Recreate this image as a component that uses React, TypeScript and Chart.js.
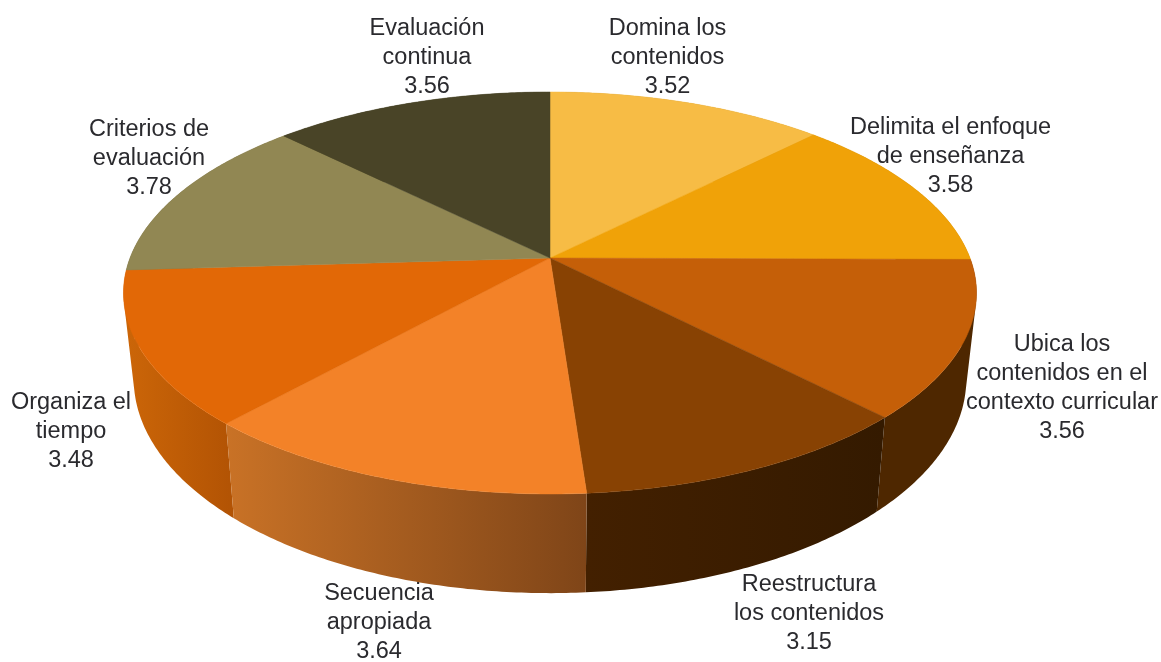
import React, { useEffect, useRef } from "react";
import { Chart, registerables } from "chart.js";

Chart.register(...registerables);

const categories = [
  ["Domina los", "contenidos"],
  ["Delimita el enfoque", "de enseñanza"],
  ["Ubica los", "contenidos en el", "contexto curricular"],
  ["Reestructura", "los contenidos"],
  ["Secuencia", "apropiada"],
  ["Organiza el", "tiempo"],
  ["Criterios de", "evaluación"],
  ["Evaluación", "continua"],
];
const values = [3.52, 3.58, 3.56, 3.15, 3.64, 3.48, 3.78, 3.56];
const valueLabels = ["3.52", "3.58", "3.56", "3.15", "3.64", "3.48", "3.78", "3.56"];
const topColors = ["#F7BC45", "#F0A208", "#C55F08", "#884203", "#F38228", "#E26806", "#918753", "#494427"];
const sideLeftColors = ["#C08A20", "#B07806", "#4E2700", "#432000", "#C97226", "#CC6608", "#6E6640", "#38341E"];
const sideRightColors = ["#C08A20", "#B07806", "#4E2700", "#341A00", "#7F4518", "#B25304", "#6E6640", "#38341E"];

// Label layout: centre x and the y of the first line's middle.
const labelAnchors = [
  [667.5, 29], [950.5, 128], [1062, 345], [809, 585],
  [379, 594], [71, 403], [149, 130], [427, 29],
];
const LINE_HEIGHT = 29;
const FONT = "23.5px 'Liberation Sans', Arial, sans-serif";

// Perspective projection of the pie's unit disc onto the screen.
const CX = 550;
const TOP_Y0 = 258;
const RX = 420;
const RY = 194.9;
const K = 0.174;
const BASE_SX = 0.976;
const BASE_SY = 1.066;
const BASE_Y0 = 341.6;

function project(angle: number, base: boolean): [number, number] {
  const u = Math.cos(angle);
  const v = Math.sin(angle);
  const w = 1 - K * v;
  if (base) return [CX + (BASE_SX * RX * u) / w, BASE_Y0 + (BASE_SY * RY * v) / w];
  return [CX + (RX * u) / w, TOP_Y0 + (RY * v) / w];
}

function arcPoints(start: number, end: number, base: boolean) {
  const n = Math.max(8, Math.ceil((end - start) / 0.01));
  const pts: [number, number][] = [];
  for (let i = 0; i <= n; i++) pts.push(project(start + ((end - start) * i) / n, base));
  return pts;
}

const pie3d = {
  id: "pie3d",
  beforeDatasetsDraw(chart: any) {
    const ctx = chart.ctx;
    const arcs = chart.getDatasetMeta(0).data;

    // Side walls, nearest last
    const order = arcs.map((_: any, i: number) => i).sort((a: number, b: number) => {
      const mid = (e: any) => Math.sin((e.startAngle + e.endAngle) / 2);
      return mid(arcs[a]) - mid(arcs[b]);
    });
    order.forEach((i: number) => {
      const el = arcs[i];
      const top = arcPoints(el.startAngle, el.endAngle, false);
      const bottom = arcPoints(el.startAngle, el.endAngle, true);
      const xs = top.concat(bottom).map((p) => p[0]);
      const x0 = Math.min(...xs);
      const x1 = Math.max(...xs);
      const grad = ctx.createLinearGradient(x0, 0, x1, 0);
      grad.addColorStop(0, sideLeftColors[i]);
      grad.addColorStop(1, sideRightColors[i]);
      ctx.beginPath();
      // One quad per step so the wall's fold at the silhouette stays filled.
      for (let j = 0; j < top.length - 1; j++) {
        const quad = [top[j], top[j + 1], bottom[j + 1], bottom[j]];
        let area = 0;
        quad.forEach((p, q) => {
          const n = quad[(q + 1) % 4];
          area += p[0] * n[1] - n[0] * p[1];
        });
        if (area < 0) quad.reverse();
        quad.forEach((p, q) => (q ? ctx.lineTo(p[0], p[1]) : ctx.moveTo(p[0], p[1])));
        ctx.closePath();
      }
      ctx.fillStyle = grad;
      ctx.fill("nonzero");
    });

    // Top face
    arcs.forEach((el: any) => {
      const color = el.options.backgroundColor;
      ctx.beginPath();
      ctx.moveTo(CX, TOP_Y0);
      arcPoints(el.startAngle, el.endAngle, false).forEach((p) => ctx.lineTo(p[0], p[1]));
      ctx.closePath();
      ctx.fillStyle = color;
      ctx.fill();
      ctx.strokeStyle = color;
      ctx.lineWidth = 0.5;
      ctx.stroke();
    });
    return false;
  },
  afterDraw(chart: any) {
    const ctx = chart.ctx;
    ctx.save();
    ctx.font = FONT;
    ctx.fillStyle = "#2A2A2E";
    ctx.textAlign = "center";
    ctx.textBaseline = "middle";
    categories.forEach((lines, i) => {
      const [x, y] = labelAnchors[i];
      [...lines, valueLabels[i]].forEach((line, j) => ctx.fillText(line, x, y + j * LINE_HEIGHT));
    });
    ctx.restore();
  },
};

export default function App() {
  const ref = useRef<HTMLCanvasElement>(null);
  useEffect(() => {
    const chart = new Chart(ref.current as HTMLCanvasElement, {
      type: "pie",
      data: {
        labels: categories.map((c) => c.join(" ")),
        datasets: [{ data: values, backgroundColor: topColors, borderWidth: 0 }],
      },
      options: {
        animation: false,
        responsive: false,
        plugins: { legend: { display: false }, tooltip: { enabled: false } },
      },
      plugins: [pie3d],
    } as any);
    return () => chart.destroy();
  }, []);
  return (
    <canvas
      ref={ref}
      width={1161}
      height={662}
      style={{ position: "absolute", left: 0, top: 0, width: 1161, height: 662, background: "#fff" }}
    />
  );
}
